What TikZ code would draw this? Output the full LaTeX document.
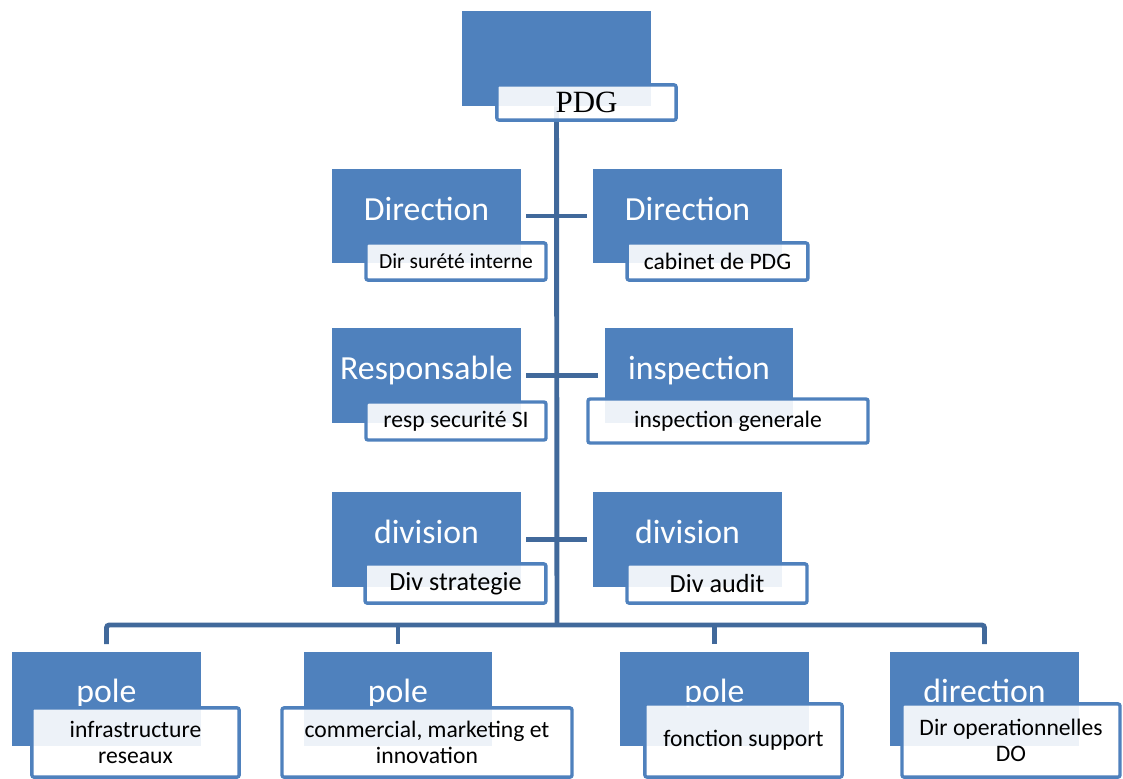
\documentclass[tikz,border=0pt]{standalone}
\usepackage{fontspec}
\setmainfont{Carlito}
\newfontfamily\pdgfont{Liberation Serif}
\usepackage{tikz}
\usetikzlibrary{calc}
\usepackage{xcolor}
\definecolor{officeblue}{HTML}{4F81BD}
\definecolor{linkblue}{HTML}{41699B}
\tikzstyle{blok}=[fill=officeblue,inner sep=0,minimum width=4.72cm,minimum height=2.35cm,text=white,font=\fontsize{24}{28}\selectfont,text height=15pt,text depth=9pt]
\tikzstyle{etiket}=[draw=officeblue,line width=2.4pt,fill=white,fill opacity=0.9,text opacity=1,rounded corners=1.5pt,inner sep=0,minimum height=0.93cm,font=\fontsize{16.8}{18.6}\selectfont,align=center]
\tikzstyle{lien}=[draw=linkblue,line width=3.5pt]

\begin{document}
\begin{tikzpicture}[x=0.025cm,y=-0.025cm]
\useasboundingbox (0,0) rectangle (1123,778);

% blocs bleus
\node[blok,minimum height=2.38cm] (pdg) at (556.5,58.5) {};
\node[blok] (bA1) at (426.5,216) {Direction};
\node[blok] (bB1) at (687.5,216) {Direction};
\node[blok] (bA2) at (426.5,375.5) {Responsable};
\node[blok,minimum width=4.7cm] (bB2) at (699,375.5) {inspection};
\node[blok] (bA3) at (426.5,539.5) {division};
\node[blok] (bB3) at (687.5,539.5) {division};
\node[blok] (bP1) at (106.5,698.5) {pole};
\node[blok] (bP2) at (398,698.5) {pole};
\node[blok] (bP3) at (714.5,698.5) {pole};
\node[blok] (bP4) at (984.5,698.5) {direction};

% liaisons
\coordinate (bus) at (557,625);
\coordinate (c1) at ([yshift=5pt]bP1.north);
\coordinate (c2) at ([yshift=5pt]bP2.north);
\coordinate (c3) at ([yshift=5pt]bP3.north);
\coordinate (c4) at ([yshift=5pt]bP4.north);
\draw[lien] (pdg.south) -- (bus);
\draw[lien,rounded corners=2pt] (c1) |- (bus) -| (c4);
\draw[lien] (c2) -- (c2 |- bus);
\draw[lien] (c3) -- (c3 |- bus);
\draw[lien,shorten <=3.5pt,shorten >=4.3pt] (bA1) -- (bB1);
\draw[lien,shorten <=3.5pt,shorten >=5pt] (bA2) -- (bB2);
\draw[lien,shorten <=3.5pt,shorten >=4.3pt] (bA3) -- (bB3);

% etiquettes
\node[etiket,minimum width=4.48cm,minimum height=0.88cm,font=\pdgfont\fontsize{22}{26}\selectfont] (pdgl) at (586.5,102.5) {PDG};
\node[etiket,minimum width=4.5cm,font=\fontsize{15.3}{18}\selectfont] (wA1) at (456,261.5) {Dir surété interne};
\node[etiket,minimum width=4.52cm] (wB1) at (717.5,261.5) {cabinet de PDG};
\node[etiket,minimum width=4.5cm,minimum height=0.95cm] (wA2) at (456,421) {resp securité SI};
\node[etiket,minimum width=7cm,minimum height=1.1cm] (wB2) at (728,421) {inspection generale};
\node[etiket,minimum width=4.52cm,minimum height=0.98cm,font=\fontsize{18.6}{22}\selectfont] (wA3) at (455.5,583.5) {Div strategie};
\node[etiket,minimum width=4.5cm,minimum height=0.98cm,font=\fontsize{18.6}{22}\selectfont] (wB3) at (717,583.5) {Div audit};
\node[etiket,minimum width=5.18cm,minimum height=1.73cm] (wP1) at (135.5,742.5) {infrastructure\\reseaux};
\node[etiket,minimum width=7.25cm,minimum height=1.73cm] (wP2) at (427,742.5) {commercial, marketing et\\innovation};
\node[etiket,minimum width=4.93cm,minimum height=1.83cm] (wP3) at (743.5,740.5) {fonction support};
\node[etiket,minimum width=5.45cm,minimum height=1.83cm] (wP4) at (1011,740.5) {Dir operationnelles\\DO};
\end{tikzpicture}
\end{document}
